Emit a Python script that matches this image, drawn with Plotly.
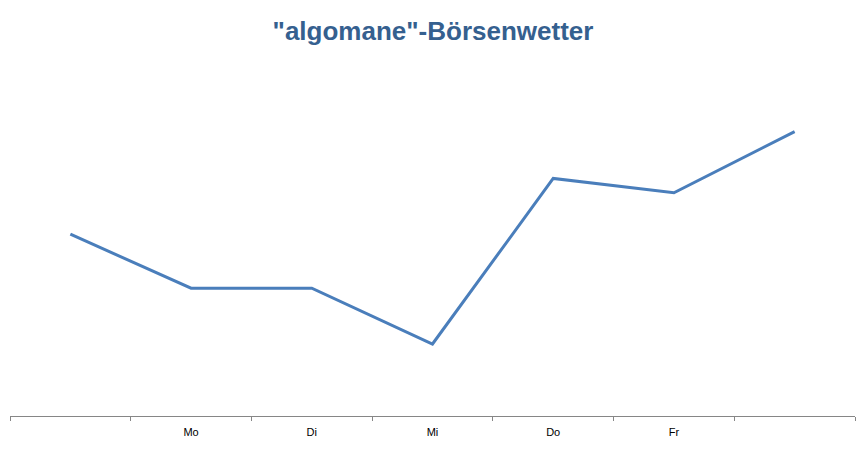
import plotly.graph_objects as go

# weekly "market weather" line, Excel-style category axis
days = ["", "Mo", "Di", "Mi", "Do", "Fr", ""]
values = [5.05, 3.55, 3.55, 2.0, 6.6, 6.2, 7.9]

positions = list(range(len(days)))
boundaries = [p - 0.5 for p in positions] + [positions[-1] + 0.5]

# page body adds an 8px offset, margins compensate for it
fig = go.Figure()
fig.add_trace(
    go.Scatter(
        x=positions,
        y=values,
        mode="lines",
        line=dict(color="#4A7EBB", width=3),
        hoverinfo="skip",
    )
)

fig.update_layout(
    width=866,
    height=470,
    paper_bgcolor="white",
    plot_bgcolor="white",
    showlegend=False,
    margin=dict(l=2, r=19, t=48, b=62),
    title=dict(
        text='"algomane"-Börsenwetter',
        x=425 / 866,
        xanchor="center",
        y=1 - 23 / 470,
        yref="container",
        yanchor="middle",
        font=dict(family="Liberation Sans, Arial", size=26, color="#35608F", weight="bold"),
    ),
)

fig.update_xaxes(
    range=[-0.5, len(days) - 0.5],
    tickvals=positions,
    ticktext=days,
    ticks="",
    ticklabelstandoff=6,
    showgrid=False,
    zeroline=False,
    showline=True,
    linecolor="#868686",
    linewidth=1,
    tickfont=dict(family="Liberation Sans, Arial", size=11, color="#000000"),
    minor=dict(tickvals=boundaries, ticks="outside", ticklen=4, tickcolor="#868686", showgrid=False),
)
fig.update_yaxes(
    range=[0, 10],
    visible=False,
    showgrid=False,
    zeroline=False,
)

fig.write_html("out.html")
